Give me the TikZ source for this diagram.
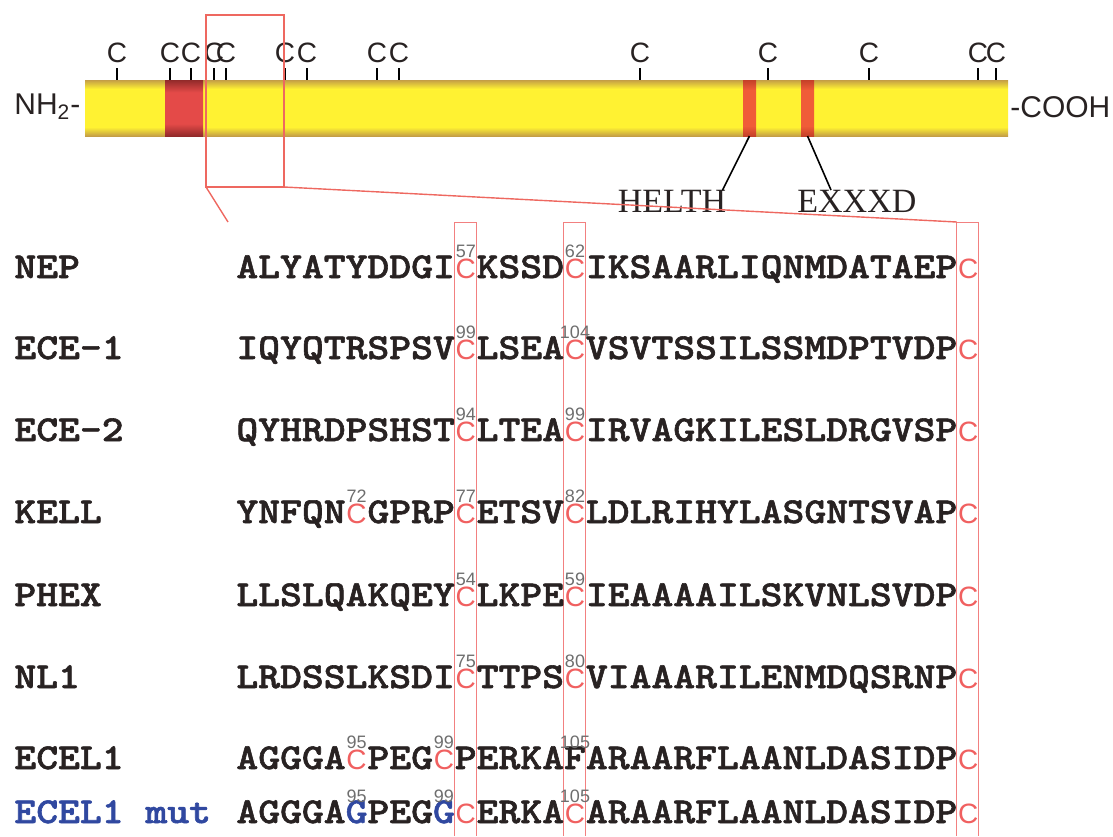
\documentclass[tikz,border=0pt]{standalone}
\usepackage{fontspec}
\setmainfont{Liberation Serif}
\setsansfont{Liberation Sans}
\newfontfamily\seqfamily{lmmonolt10-bold.otf}[FakeStretch=1.14, FakeBold=1.6]
\usetikzlibrary{
  positioning,
  calc}

\definecolor{bartan}{RGB}{196,158,70}
\definecolor{baryellow}{RGB}{255,242,50}
\definecolor{tmdark}{RGB}{146,42,42}
\definecolor{tmred}{RGB}{228,74,72}
\definecolor{motifdark}{RGB}{196,64,40}
\definecolor{motifcolor}{RGB}{240,92,56}
\definecolor{cyscolor}{RGB}{240,96,96}
\definecolor{zoomcolor}{RGB}{238,104,96}
\definecolor{colcolor}{RGB}{242,128,128}
\definecolor{numcolor}{RGB}{110,110,110}
\definecolor{mutcolor}{RGB}{48,72,160}
\definecolor{inkcolor}{RGB}{40,34,34}

%% shadings for the protein bar and its red segments
\pgfdeclareverticalshading{barshade}{100bp}{%
  color(0bp)=(bartan); color(25bp)=(bartan); color(33bp)=(baryellow);
  color(67bp)=(baryellow); color(75bp)=(bartan); color(100bp)=(bartan)}
\pgfdeclareverticalshading{tmshade}{100bp}{%
  color(0bp)=(tmdark); color(25bp)=(tmdark); color(36bp)=(tmred);
  color(64bp)=(tmred); color(75bp)=(tmdark); color(100bp)=(tmdark)}
\pgfdeclareverticalshading{motifshade}{100bp}{%
  color(0bp)=(motifdark); color(25bp)=(motifdark); color(34bp)=(motifcolor);
  color(66bp)=(motifcolor); color(75bp)=(motifdark); color(100bp)=(motifdark)}

%% one residue column is 0.5985em of the sequence font
\newcommand{\cys}{\makebox[0.5985em][c]{\fontsize{14}{14}\selectfont\sffamily\mdseries\color{cyscolor}C}}
\newcommand{\resno}[1]{\llap{\makebox[0.5985em][c]{\raisebox{10.5pt}{\fontsize{9}{9}\selectfont\sffamily\mdseries\color{numcolor}#1}}}}
\newcommand{\mutg}{\makebox[0.5985em][c]{\color{mutcolor}G}}

\tikzset{
  %% tick : position of a cysteine on the bar
  tick/.style={
    black,
    line width=1.1pt
  },
  %% clabel : the C above a tick
  clabel/.style={
    font=\sffamily\fontsize{14}{14}\selectfont,
    text=inkcolor
  },
  %% termlabel : N- and C-terminus
  termlabel/.style={
    font=\sffamily\fontsize{15}{15}\selectfont,
    text=inkcolor
  },
  %% motif : zinc binding motifs
  motif/.style={
    font=\rmfamily\fontsize{17}{17}\selectfont,
    text=inkcolor
  },
  leader/.style={black, line width=0.8pt},
  %% zoom : enlarged region of the bar
  zoom/.style={zoomcolor, line width=0.7pt},
  %% column : conserved cysteine column
  column/.style={colcolor, line width=0.5pt},
  %% protname : name of the aligned protein
  protname/.style={
    anchor=base west,
    font=\seqfamily\fontsize{18.25}{20}\selectfont,
    text=inkcolor
  },
  %% seq : aligned sequence
  seq/.style={
    anchor=base west,
    font=\seqfamily\fontsize{18.25}{20}\selectfont,
    text=inkcolor
  }
}

\begin{document}
\begin{tikzpicture}
  [x=0.5pt,
  y=-0.5pt,
  inner sep=0pt]

  \useasboundingbox (0, 0) rectangle (1113, 836);

  %% Protein bar
  \shade [shading=barshade] (85, 80) rectangle (1008, 136);
  \shade [shading=tmshade] (165, 80) rectangle (203, 136);
  \shade [shading=motifshade] (743, 80) rectangle (756, 136);
  \shade [shading=motifshade] (801, 80) rectangle (814, 136);

  \node (nterm) [termlabel, anchor=west] at (14, 107) {NH\textsubscript{2}-};
  \node (cterm) [termlabel, anchor=west] at (1010, 107) {-COOH};

  %% Cysteines
  \foreach \x [count=\i] in {117, 170, 191, 214, 226, 285, 307, 377, 399,
    640, 768, 869, 978, 996}{
    \draw [tick] (\x, 68) -- (\x, 80);
    \node (cys\i) [clabel] at (\x, 53) {C};
  }

  %% Motifs
  \coordinate (helthfoot) at (749.5, 136);
  \coordinate (exxxdfoot) at (807.5, 136);
  \node (helth) [motif, anchor=north] at (672, 190) {HELTH};
  \node (exxxd) [motif, anchor=north west] at (797, 190) {EXXXD};
  \draw [leader] (helthfoot) -- ([xshift=-2pt]helth.north east);
  \draw [leader] (exxxdfoot) -- ([xshift=17pt]exxxd.north west);

  %% Columns of the conserved cysteines
  \foreach \k [count=\i] in {10, 15, 33}{
    \coordinate (col\i) at ({236 + \k*21.84}, 222);
    \draw [column] ({236 + \k*21.84}, 836) -- (col\i)
      -- ({236 + (\k+1)*21.84}, 222) -- ({236 + (\k+1)*21.84}, 836);
  }

  %% Zoom from the bar to the alignment
  \draw [zoom] (206, 15) rectangle (284, 187);
  \coordinate (zoombl) at (206, 187);
  \coordinate (zoombr) at (284, 187);
  \coordinate (alignstart) at (228, 222);
  \draw [zoom] (zoombl) -- (alignstart);
  \draw [zoom] (zoombr) -- (col3);

  %% Alignment
  \node (nep) [protname] at (14, 278) {NEP};
  \node (nepseq) [seq] at (236, 278)
    {ALYATYDDGI\cys\resno{57}KSSD\cys\resno{62}IKSAARLIQNMDATAEP\cys};

  \node (eceone) [protname] at (14, 359) {ECE-1};
  \node (eceoneseq) [seq] at (236, 359)
    {IQYQTRSPSV\cys\resno{99}LSEA\cys\resno{104}VSVTSSILSSMDPTVDP\cys};

  \node (ecetwo) [protname] at (14, 441) {ECE-2};
  \node (ecetwoseq) [seq] at (236, 441)
    {QYHRDPSHST\cys\resno{94}LTEA\cys\resno{99}IRVAGKILESLDRGVSP\cys};

  \node (kell) [protname] at (14, 523) {KELL};
  \node (kellseq) [seq] at (236, 523)
    {YNFQN\cys\resno{72}GPRP\cys\resno{77}ETSV\cys\resno{82}LDLRIHYLASGNTSVAP\cys};

  \node (phex) [protname] at (14, 606) {PHEX};
  \node (phexseq) [seq] at (236, 606)
    {LLSLQAKQEY\cys\resno{54}LKPE\cys\resno{59}IEAAAAILSKVNLSVDP\cys};

  \node (nlone) [protname] at (14, 688) {NL1};
  \node (nloneseq) [seq] at (236, 688)
    {LRDSSLKSDI\cys\resno{75}TTPS\cys\resno{80}VIAAARILENMDQSRNP\cys};

  \node (ecel) [protname] at (14, 769) {ECEL1};
  \node (ecelseq) [seq] at (236, 769)
    {AGGGA\cys\resno{95}PEG\cys\resno{99}PERKAF\resno{105}ARAARFLAANLDASIDP\cys};

  \node (ecelmut) [protname, text=mutcolor] at (14, 823) {ECEL1 mut};
  \node (ecelmutseq) [seq] at (236, 823)
    {AGGGA\mutg\resno{95}PEG\mutg\resno{99}\cys{}ERKA\cys\resno{105}ARAARFLAANLDASIDP\cys};

\end{tikzpicture}
\end{document}
